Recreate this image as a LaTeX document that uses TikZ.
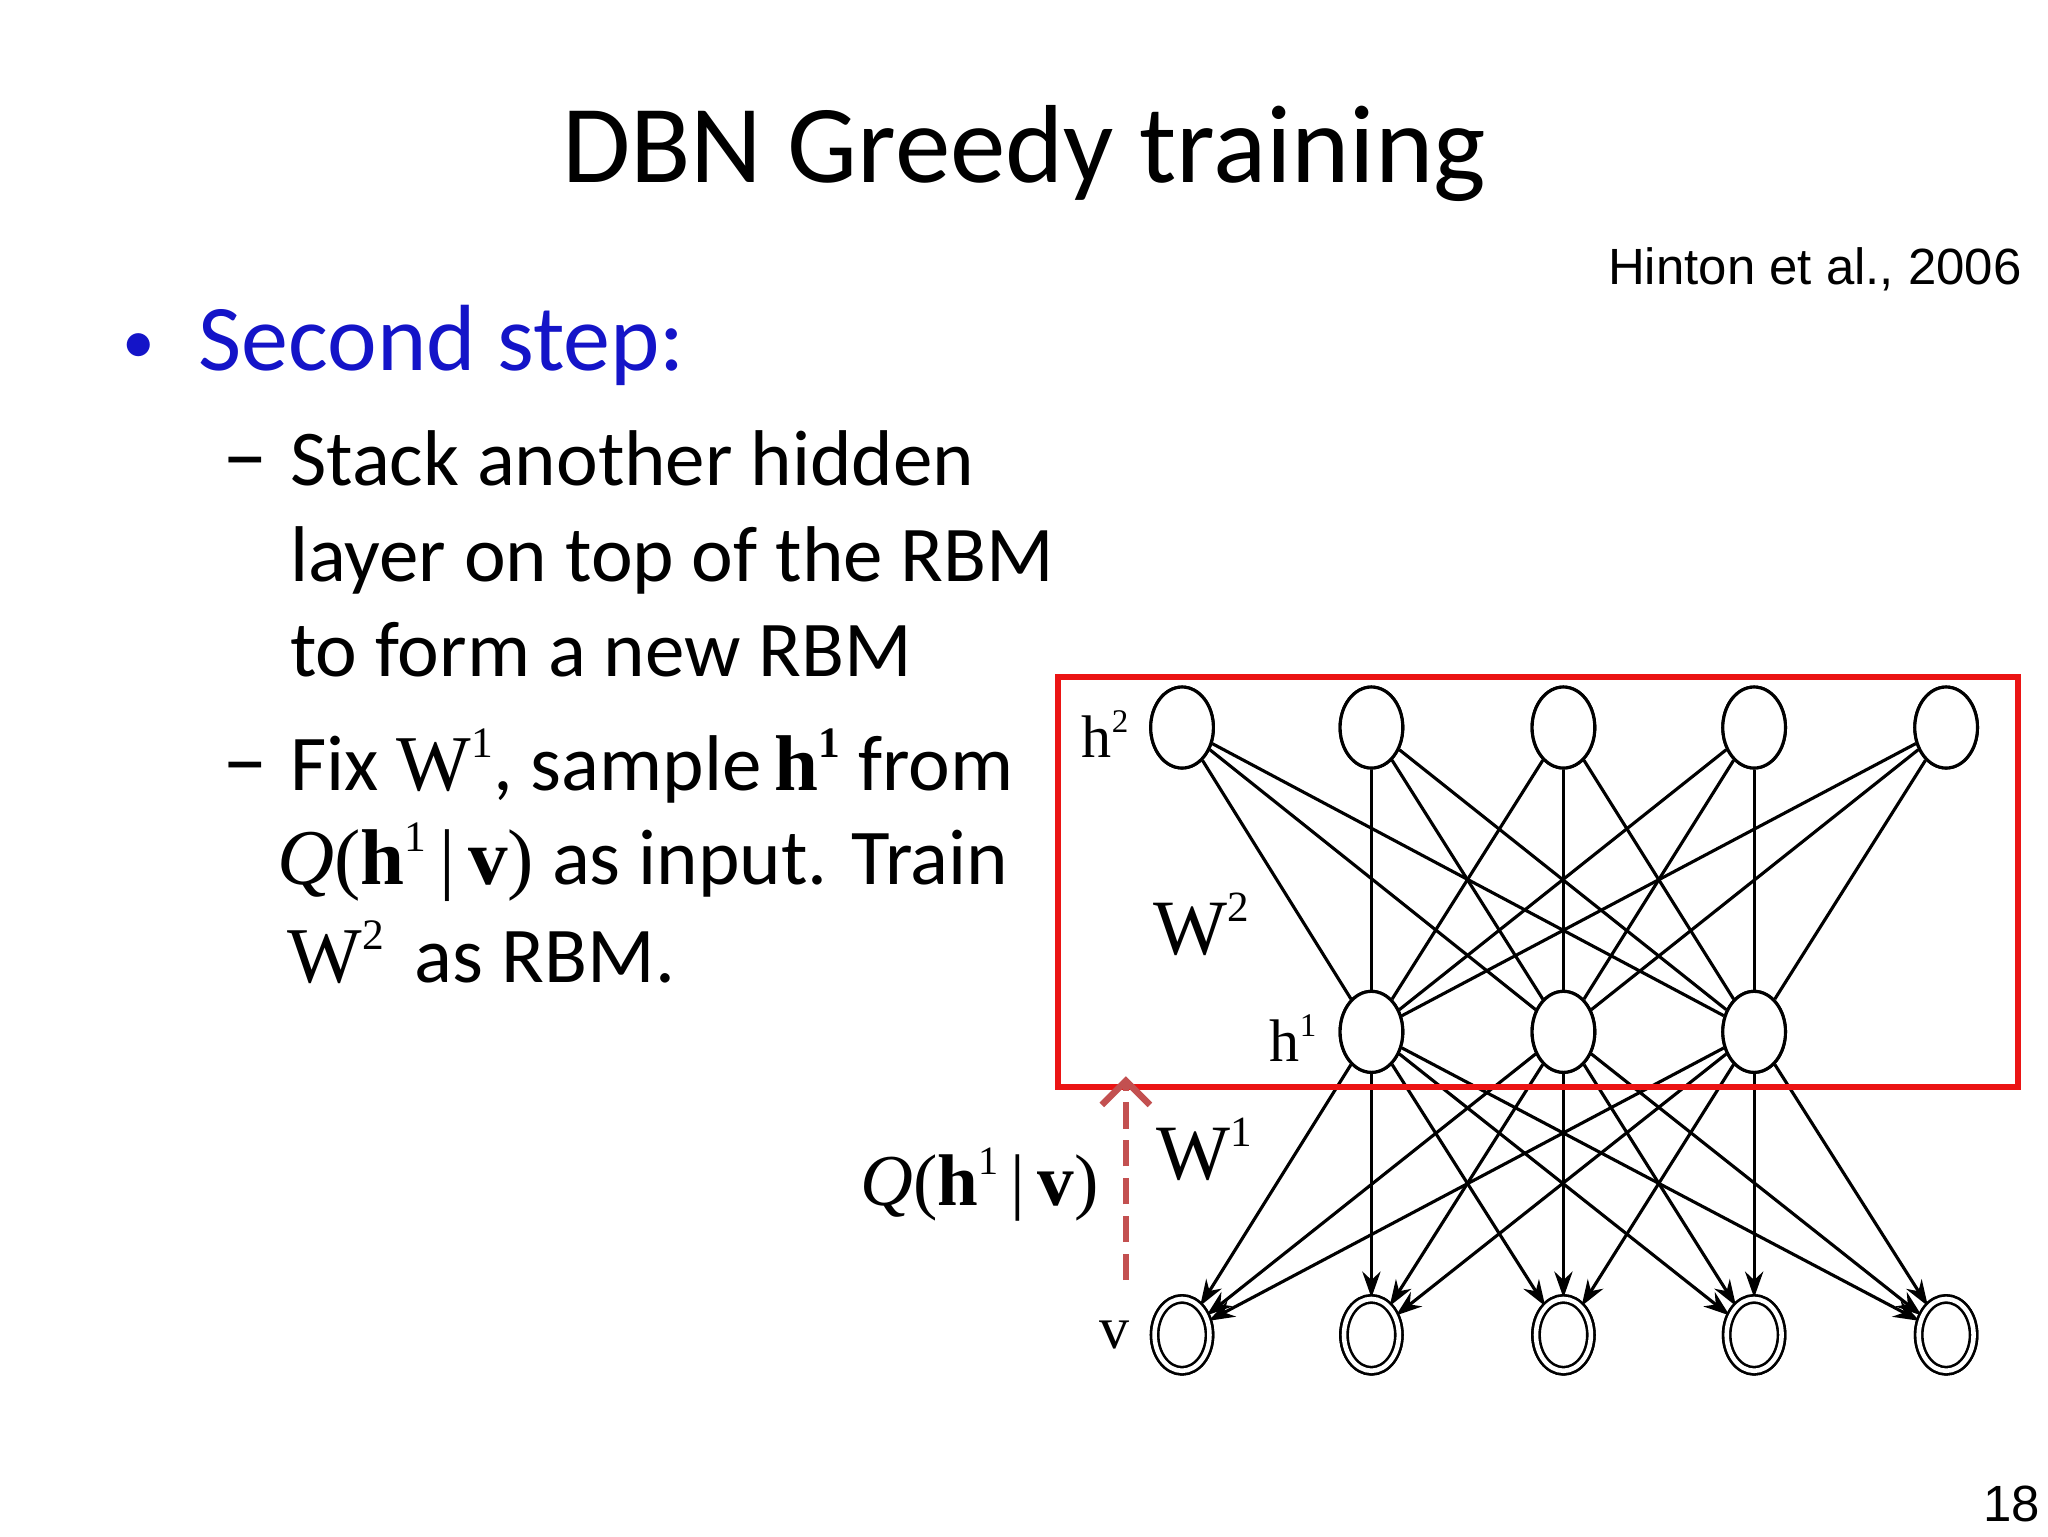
\documentclass[tikz,border=0pt]{standalone}
\usepackage{fontspec}
\setmainfont{Carlito}
\newfontfamily\serif{Liberation Serif}
\newfontfamily\arial{Liberation Sans}
\usetikzlibrary{shapes.geometric,arrows.meta}
\definecolor{qred}{RGB}{195,80,80}
\definecolor{boxred}{RGB}{235,20,20}
\definecolor{bblue}{RGB}{20,20,200}
\newcommand{\mysup}[1]{\raisebox{0.42em}{\fontsize{0.55em}{0.55em}\selectfont #1}}
\begin{document}
\begin{tikzpicture}[x=1pt,y=-1pt,
  unit/.style={ellipse,draw,line width=2.4pt,minimum width=48pt,minimum height=62pt,inner sep=0pt,fill=white},
  vis/.style={unit,double,double distance=3.5pt,line width=2pt,minimum width=42pt,minimum height=55pt},
  wt/.style={line width=2.4pt},
  arr/.style={wt,-{Stealth[length=20pt,width=14pt]}},
  lab/.style={font=\serif\fontsize{46}{46}\selectfont},
  txt/.style={anchor=base west,font=\fontsize{60.5}{60.5}\selectfont,inner sep=0pt}]
\useasboundingbox (0,0) rectangle (1568,1176);
\fill[white] (0,0) rectangle (1568,1176);
\node[font=\fontsize{85}{85}\selectfont,inner sep=0pt,anchor=base] (title) at (784,140) {DBN Greedy training};
\node[font=\arial\fontsize{39}{39}\selectfont,anchor=base east,inner sep=0pt] (cite) at (1548,218) {Hinton et al., 2006};
\node[font=\arial\fontsize{39}{39}\selectfont,anchor=base east,inner sep=0pt] (pg) at (1562,1165) {18};
\node[txt,font=\fontsize{72}{72}\selectfont,text=bblue] (b1) at (152,284) {Second step:};
\node[txt,font=\fontsize{50}{50}\selectfont,text=bblue,anchor=base] (dot) at (106,278) {•};
\node[txt,font=\fontsize{70}{70}\selectfont] (d1) at (170,372) {–};
\node[txt] (l1) at (222,372) {Stack another hidden};
\node[txt] (l2) at (222,445) {layer on top of the RBM};
\node[txt] (l3) at (222,518) {to form a new RBM};
\node[txt,font=\fontsize{70}{70}\selectfont] (d2) at (170,605) {–};
\node[txt] (l4) at (222,605) {Fix {\serif W\mysup{1}}, sample\,{\serif\bfseries h\mysup{1}} from};
\node[txt] (l5) at (212,677) {{\serif\itshape Q}{\serif(\textbf{h}\mysup{1}\,|\,\textbf{v})} as input. Train};
\node[txt] (l6) at (220,752) {{\serif W\mysup{2}}\, as RBM.};
% nodes
\foreach \i/\x in {1/905,2/1050,3/1197,4/1343,5/1490}{
  \node[unit] (t\i) at (\x,557) {};
  \node[vis] (v\i) at (\x,1022) {};
}
\foreach \i/\x in {1/1050,2/1197,3/1343}{ \node[unit] (m\i) at (\x,790) {}; }
\foreach \i in {1,...,5}{ \foreach \j in {1,2,3}{
  \draw[wt] (t\i) -- (m\j);
  \draw[arr] (m\j) -- (v\i);
}}
\foreach \i in {1,...,5}{ \node[unit] at (t\i) {}; \node[vis] at (v\i) {}; }
\foreach \j in {1,2,3}{ \node[unit] at (m\j) {}; }
% box
\node[draw=boxred,line width=4.5pt,minimum width=735pt,minimum height=314pt,inner sep=0pt,anchor=north west] (box) at (808,516) {};
\coordinate (qs) at (862,980);
\coordinate (qe) at (862,824);
\draw[qred,line width=5pt,dash pattern=on 20pt off 9pt,-{Straight Barb[scale=1.6]}] (qs) -- (qe);
% labels
\node[lab] (lh2) at (846,562) {h\mysup{2}};
\node[lab] (lh1) at (990,795) {h\mysup{1}};
\node[lab] (lv) at (853,1022) {v};
\node[lab,font=\serif\fontsize{60}{60}\selectfont] (w2) at (920,708) {W\mysup{2}};
\node[lab,font=\serif\fontsize{60}{60}\selectfont] (w1) at (922,880) {W\mysup{1}};
\node[lab,font=\serif\fontsize{56}{56}\selectfont] (q) at (750,907) {{\itshape Q}(\textbf{h}\mysup{1}\,|\,\textbf{v})};
\end{tikzpicture}
\end{document}
